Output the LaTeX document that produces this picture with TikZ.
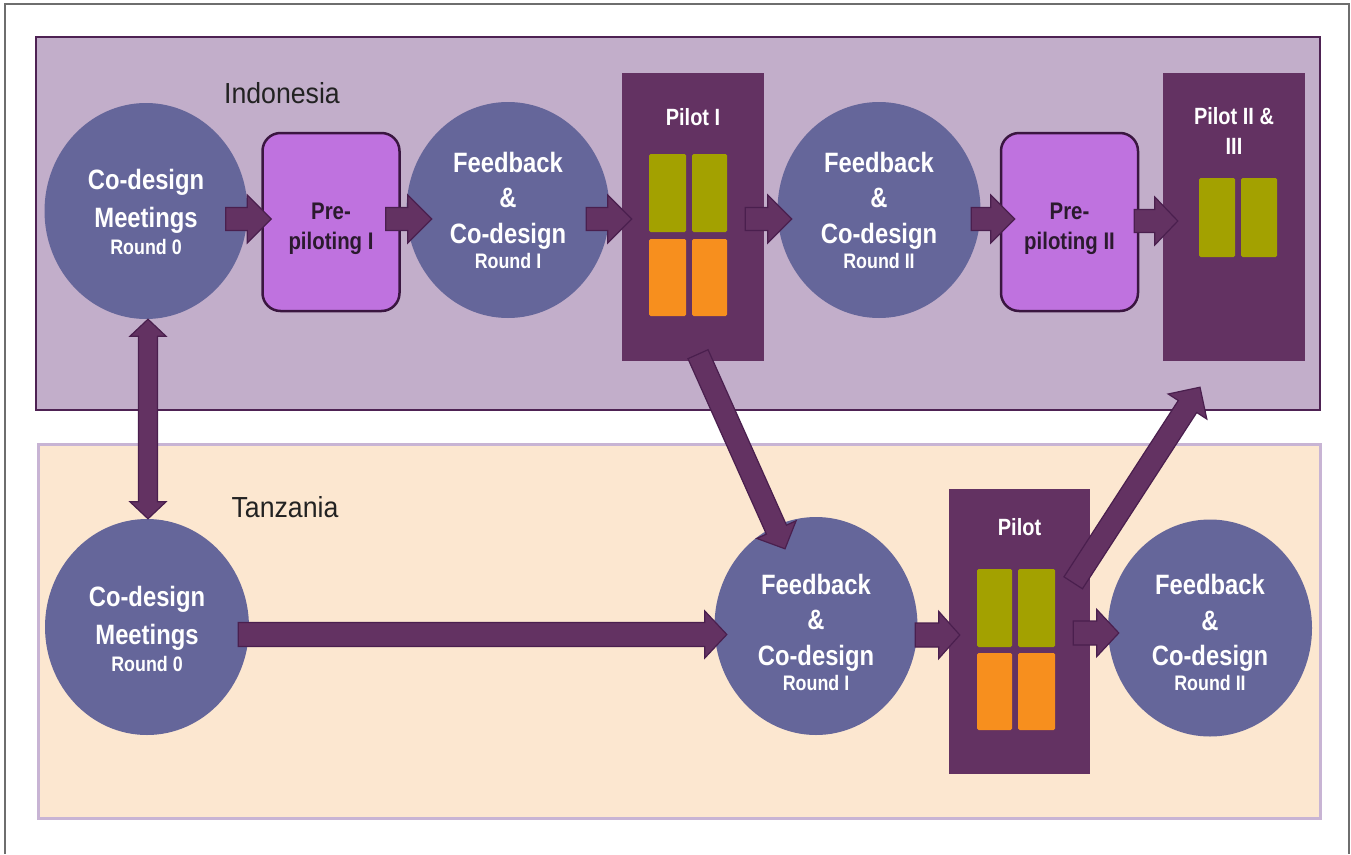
\documentclass[tikz,border=0pt]{standalone}
\usepackage{fontspec}
\newfontfamily\cond[FakeStretch=0.85]{Liberation Sans}
\newfontfamily\titlefont[FakeStretch=0.92]{Liberation Sans}
\usetikzlibrary{shapes.geometric,calc}
\definecolor{indofill}{HTML}{C2AECA}
\definecolor{indoborder}{HTML}{4E2253}
\definecolor{tanfill}{HTML}{FCE7D0}
\definecolor{tanborder}{HTML}{C8B4D4}
\definecolor{circfill}{HTML}{65669A}
\definecolor{ppfill}{HTML}{BF72DF}
\definecolor{ppborder}{HTML}{3A1640}
\definecolor{pilotfill}{HTML}{633262}
\definecolor{arrfill}{HTML}{633262}
\definecolor{arrborder}{HTML}{4A1F4E}
\definecolor{greenc}{HTML}{A3A100}
\definecolor{orangec}{HTML}{F78F1E}
\definecolor{framec}{HTML}{6E6E6E}
\definecolor{pptext}{HTML}{2B1A2E}
\definecolor{titlec}{HTML}{222222}
% block arrow: shaft half width, head half width, head length, from, to
\newcommand\blockarrow[5]{%
  \path #4 coordinate (ba-s) #5 coordinate (ba-t);
  \coordinate (ba-h) at ($(ba-t)!#3!(ba-s)$);
  \draw[blockarr] ($(ba-s)!#1!90:(ba-t)$) -- ($(ba-h)!#1!90:(ba-t)$)
    -- ($(ba-h)!#2!90:(ba-t)$) -- (ba-t) -- ($(ba-h)!#2!-90:(ba-t)$)
    -- ($(ba-h)!#1!-90:(ba-t)$) -- ($(ba-s)!#1!-90:(ba-t)$) -- cycle;}
% double-headed block arrow
\newcommand\dblarrow[5]{%
  \path #4 coordinate (da-s) #5 coordinate (da-t);
  \coordinate (da-hs) at ($(da-s)!#3!(da-t)$);
  \coordinate (da-ht) at ($(da-t)!#3!(da-s)$);
  \draw[blockarr] (da-s) -- ($(da-hs)!#2!90:(da-t)$) -- ($(da-hs)!#1!90:(da-t)$)
    -- ($(da-ht)!#1!90:(da-t)$) -- ($(da-ht)!#2!90:(da-t)$) -- (da-t)
    -- ($(da-ht)!#2!-90:(da-t)$) -- ($(da-ht)!#1!-90:(da-t)$)
    -- ($(da-hs)!#1!-90:(da-t)$) -- ($(da-hs)!#2!-90:(da-t)$) -- cycle;}
% invisible strut raising the first line box (moves text down in a node)
\newcommand\topstrut[1]{\rule{0pt}{#1}}
\begin{document}
\begin{tikzpicture}[x=1pt,y=-1pt,
  frame/.style={draw=framec, line width=2pt},
  region/.style={rectangle, inner sep=0pt},
  circ/.style={ellipse, fill=circfill, inner sep=0pt, text=white, align=center},
  codesign/.style={circ, font=\cond\bfseries\fontsize{28}{38}\selectfont},
  feedback/.style={circ, font=\cond\bfseries\fontsize{28}{35.5}\selectfont},
  prepilot/.style={rectangle, rounded corners=18pt, fill=ppfill, draw=ppborder, line width=2.5pt,
    minimum width=137pt, minimum height=178pt, inner sep=0pt, align=center, text=pptext,
    font=\cond\bfseries\fontsize{24}{30}\selectfont},
  pilot/.style={rectangle, fill=pilotfill, inner sep=0pt},
  pilotlbl/.style={text=white, inner sep=0pt, align=center, anchor=north,
    font=\cond\bfseries\fontsize{23.5}{30}\selectfont},
  title/.style={text=titlec, inner sep=0pt, font=\titlefont\fontsize{29}{34}\selectfont},
  blockarr/.style={fill=arrfill, draw=arrborder, line width=1.2pt, line join=miter},
  greenbox/.style={fill=greenc, rounded corners=1.5pt},
  orangebox/.style={fill=orangec, rounded corners=1.5pt}]
\useasboundingbox (0,0) rectangle (1351,854);
\fill[white] (0,0) rectangle (1351,854);
\draw[frame] (5,854) -- (5,4) -- (1349,4) -- (1349,854);

% regions
\node[region, draw=indoborder, fill=indofill, line width=2.5pt,
  minimum width=1284pt, minimum height=373pt] (indo) at (678,223.5) {};
\node[region, draw=tanborder, fill=tanfill, line width=3pt,
  minimum width=1282pt, minimum height=374pt] (tanz) at (679,631) {};
\node[title, anchor=base] (indolbl) at (282,103) {Indonesia};
\node[title, anchor=base] (tanlbl) at (285,517) {Tanzania};

% Indonesia row
\node[codesign, minimum width=203pt, minimum height=216pt] (icd) at (146,211)
  {\topstrut{23pt}Co-design\\Meetings\\[-11pt]{\fontsize{21}{26}\selectfont Round 0}};
\node[prepilot] (ipp1) at (331,222) {\topstrut{29.5pt}Pre-\\piloting I};
\node[feedback, minimum width=203pt, minimum height=216pt] (ifb1) at (508,210)
  {Feedback\\\&\\Co-design\\[-10.5pt]{\fontsize{21}{26}\selectfont Round I}};
\node[pilot, minimum width=142pt, minimum height=288pt,
  label={[name=ip1lbl, pilotlbl, yshift=-35pt]north:Pilot I}] (ip1) at (693,217) {};
\node[feedback, minimum width=203pt, minimum height=216pt] (ifb2) at (879,210)
  {Feedback\\\&\\Co-design\\[-10.5pt]{\fontsize{21}{26}\selectfont Round II}};
\node[prepilot] (ipp2) at (1069.5,222) {\topstrut{29.5pt}Pre-\\piloting II};
\node[pilot, minimum width=142pt, minimum height=288pt,
  label={[name=ip2lbl, pilotlbl, yshift=-34pt]north:Pilot II \&\\III}] (ip2) at (1234,217) {};

% Tanzania row
\node[codesign, minimum width=204pt, minimum height=216pt] (tcd) at (147,627)
  {\topstrut{25pt}Co-design\\Meetings\\[-11pt]{\fontsize{21}{26}\selectfont Round 0}};
\node[feedback, minimum width=203pt, minimum height=218pt] (tfb1) at (816,626)
  {\topstrut{33pt}Feedback\\\&\\Co-design\\[-10.5pt]{\fontsize{21}{26}\selectfont Round I}};
\node[pilot, minimum width=141pt, minimum height=285pt,
  label={[name=tplbl, pilotlbl, yshift=-29pt]north:Pilot}] (tp) at (1019.5,631.5) {};
\node[feedback, minimum width=204pt, minimum height=217pt] (tfb2) at (1210,628)
  {\topstrut{30pt}Feedback\\\&\\Co-design\\[-10.5pt]{\fontsize{21}{26}\selectfont Round II}};

% pilot content blocks
\fill[greenbox] (649,154) rectangle (686,232);
\fill[greenbox] (692,154) rectangle (727,232);
\fill[orangebox] (649,239) rectangle (686,316);
\fill[orangebox] (692,239) rectangle (727,316);
\fill[greenbox] (1199,178) rectangle (1235,257);
\fill[greenbox] (1241,178) rectangle (1277,257);
\fill[greenbox] (977,569) rectangle (1012,647);
\fill[greenbox] (1018,569) rectangle (1055,647);
\fill[orangebox] (977,653) rectangle (1012,730);
\fill[orangebox] (1018,653) rectangle (1055,730);

% arrows Indonesia
\blockarrow{11.5pt}{24pt}{24pt}{($(icd.east)+(-22,8)$)}{($(ipp1.west)+(10,-3)$)}
\blockarrow{11.5pt}{24pt}{24pt}{($(ipp1.east)+(-15,-3)$)}{($(ifb1.west)+(25.5,9)$)}
\blockarrow{11.5pt}{24pt}{24pt}{($(ifb1.east)+(-23.5,9)$)}{($(ip1.west)+(10,2)$)}
\blockarrow{11.5pt}{24pt}{24pt}{($(ip1.east)+(-19,2)$)}{($(ifb2.west)+(14.5,9)$)}
\blockarrow{11.5pt}{24pt}{24pt}{($(ifb2.east)+(-9.5,9)$)}{($(ipp2.west)+(15,-3)$)}
\blockarrow{11.5pt}{24pt}{23pt}{($(ipp2.east)+(-5,-1)$)}{($(ip2.west)+(15,4)$)}
% arrows Tanzania
\blockarrow{12pt}{23.5pt}{22pt}{($(tcd.east)+(-11,7.5)$)}{($(tfb1.west)+(12.5,8.5)$)}
\blockarrow{12pt}{23.5pt}{21pt}{($(tfb1.east)+(-2.5,9)$)}{($(tp.west)+(11,3.5)$)}
\blockarrow{12pt}{23.5pt}{22pt}{($(tp.east)+(-17,1.5)$)}{($(tfb2.west)+(11,5)$)}
% cross arrows
\blockarrow{11pt}{21.5pt}{21pt}{($(ip1.south)+(5,-7)$)}{($(tfb1.north)+(-31,32)$)}
\blockarrow{11pt}{23pt}{23pt}{($(tp.north east)+(-17,94)$)}{($(ip2.south)+(-34,26)$)}
\dblarrow{9.5pt}{18pt}{17pt}{($(icd.south)+(2,0)$)}{($(tcd.north)+(1,0)$)}
\end{tikzpicture}
\end{document}
